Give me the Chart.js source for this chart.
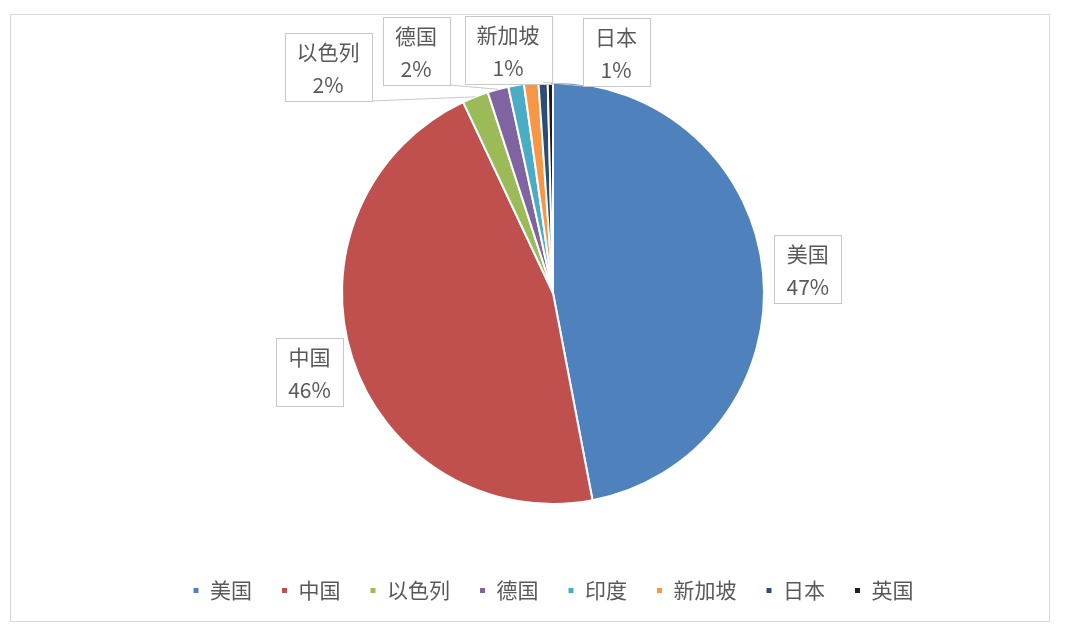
<!DOCTYPE html>
<html>
<head>
<meta charset="utf-8">
<script src="https://cdn.jsdelivr.net/npm/chart.js@4.4.1/dist/chart.umd.min.js"></script>
<style>
body { margin: 0; background: #fff; }
#wrap { position: absolute; left: 10px; top: 14px; width: 1040px; height: 608px; border: 1px solid #d9d9d9; box-sizing: border-box; }
</style>
</head>
<body>
<div id="wrap"><canvas id="pieChart"></canvas></div>
<script>
const countries = ['美国', '中国', '以色列', '德国', '印度', '新加坡', '日本', '英国'];
const shares = [47, 46, 2.0, 1.6, 1.2, 1.1, 0.7, 0.4];
const sliceColors = ['#4F81BD', '#C0504D', '#9BBB59', '#8064A2', '#4BACC6', '#F79646', '#2C4D75', '#1E1E1E'];
const labelledSlices = ['美国', '中国', '以色列', '德国', '新加坡', '日本'];

// the small slices at the top get their callouts pushed into a row
const calloutOffsets = {
    '以色列': [-225, -226],
    '德国': [-137, -242],
    '新加坡': [-45, -243],
    '日本': [63, -241]
};

const textFont = '"Noto Sans CJK SC", "Noto Sans", sans-serif';

const calloutPlugin = {
    id: 'callouts',
    afterDatasetsDraw(chart) {
        const ctx = chart.ctx;
        const meta = chart.getDatasetMeta(0);
        const total = shares.reduce((a, b) => a + b, 0);
        ctx.save();
        ctx.font = '21px ' + textFont;
        ctx.textAlign = 'center';
        ctx.textBaseline = 'middle';
        meta.data.forEach((arc, i) => {
            const name = countries[i];
            if (!labelledSlices.includes(name)) return;
            const pct = Math.round(shares[i] / total * 100) + '%';
            const mid = (arc.startAngle + arc.endAngle) / 2;
            const r = arc.outerRadius;
            let cx, cy;
            const w = Math.max(ctx.measureText(name).width + 24, 67);
            const h = 68;
            if (calloutOffsets[name]) {
                cx = arc.x + calloutOffsets[name][0];
                cy = arc.y + calloutOffsets[name][1];
                // leader line from the box to the slice edge
                const ex = arc.x + Math.cos(mid) * r;
                const ey = arc.y + Math.sin(mid) * r;
                const sx = Math.min(Math.max(ex, cx - w / 2), cx + w / 2);
                ctx.strokeStyle = '#c8c8c8';
                ctx.lineWidth = 1;
                ctx.beginPath();
                ctx.moveTo(sx, cy + h / 2);
                ctx.lineTo(ex, ey);
                ctx.stroke();
            } else {
                cx = arc.x + Math.cos(mid) * (r + 45);
                cy = arc.y + Math.sin(mid) * (r + 45);
            }
            ctx.fillStyle = '#ffffff';
            ctx.fillRect(cx - w / 2, cy - h / 2, w, h);
            ctx.strokeStyle = '#c8c8c8';
            ctx.lineWidth = 1;
            ctx.strokeRect(Math.round(cx - w / 2) + 0.5, Math.round(cy - h / 2) + 0.5, Math.round(w), h);
            ctx.fillStyle = '#595959';
            ctx.fillText(name, cx, cy - 15);
            ctx.fillText(pct, cx, cy + 18);
        });
        ctx.restore();
    }
};

new Chart(document.getElementById('pieChart'), {
    type: 'pie',
    data: {
        labels: countries,
        datasets: [{
            data: shares,
            backgroundColor: sliceColors,
            borderColor: '#ffffff',
            borderWidth: 2,
            radius: 211
        }]
    },
    options: {
        responsive: true,
        maintainAspectRatio: false,
        animation: false,
        layout: { padding: { top: 20, bottom: 10, left: 46, right: 0 } },
        plugins: {
            legend: {
                position: 'bottom',
                labels: {
                    boxWidth: 7,
                    boxHeight: 7,
                    padding: 29,
                    color: '#595959',
                    font: { size: 21, family: textFont }
                }
            },
            tooltip: { enabled: false }
        }
    },
    plugins: [calloutPlugin]
});
</script>
</body>
</html>
